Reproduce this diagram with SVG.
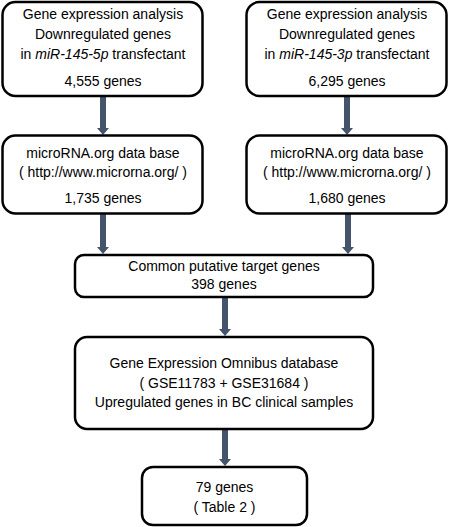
<svg xmlns="http://www.w3.org/2000/svg" width="450" height="527" viewBox="0 0 450 527">
<style>
.box{fill:#fff;stroke:#000;stroke-width:2.5}
.t{font-family:"Liberation Sans",Arial,sans-serif;font-size:14px;fill:#000;text-anchor:middle}
.arr{fill:#44546a}
</style>
<rect width="450" height="527" fill="#fff"/>
<g id="connectors">
<polygon class="arr" points="100,97 106,97 106,128 109,128 103,135 97,128 100,128"/>
<polygon class="arr" points="344,97 350,97 350,128 353,128 347,135 341,128 344,128"/>
<polygon class="arr" points="100,214 106,214 106,247 109,247 103,254 97,247 100,247"/>
<polygon class="arr" points="345,214 351,214 351,247 354,247 348,254 342,247 345,247"/>
<polygon class="arr" points="222,298 228,298 228,329 231,329 225,336 219,329 222,329"/>
<polygon class="arr" points="222,430 228,430 228,459 231,459 225,466 219,459 222,459"/>
</g>
<g id="n1">
<rect class="box" x="2.5" y="2" width="200" height="94" rx="13"/>
<text class="t" x="103" y="19">Gene expression analysis</text>
<text class="t" x="103" y="39">Downregulated genes</text>
<text class="t" x="103" y="59">in <tspan font-style="italic">miR-145-5p</tspan> transfectant</text>
<text class="t" x="103" y="86">4,555 genes</text>
</g>
<g id="n2">
<rect class="box" x="246.5" y="2" width="200" height="94" rx="13"/>
<text class="t" x="347" y="19">Gene expression analysis</text>
<text class="t" x="347" y="39">Downregulated genes</text>
<text class="t" x="347" y="59">in <tspan font-style="italic">miR-145-3p</tspan> transfectant</text>
<text class="t" x="347" y="86">6,295 genes</text>
</g>
<g id="n3">
<rect class="box" x="2.5" y="135.5" width="200" height="78" rx="13"/>
<text class="t" x="103" y="158">microRNA.org data base</text>
<text class="t" x="103" y="177">( http://www.microrna.org/ )</text>
<text class="t" x="103" y="203">1,735 genes</text>
</g>
<g id="n4">
<rect class="box" x="246.5" y="135.5" width="200" height="78" rx="13"/>
<text class="t" x="347" y="158">microRNA.org data base</text>
<text class="t" x="347" y="177">( http://www.microrna.org/ )</text>
<text class="t" x="347" y="203">1,680 genes</text>
</g>
<g id="n5">
<rect class="box" x="75" y="255" width="298" height="42" rx="9"/>
<text class="t" x="224" y="271">Common putative target genes</text>
<text class="t" x="224" y="289">398 genes</text>
</g>
<g id="n6">
<rect class="box" x="75" y="337" width="298" height="92" rx="12"/>
<text class="t" x="224" y="368">Gene Expression Omnibus database</text>
<text class="t" x="224" y="388">( GSE11783 + GSE31684 )</text>
<text class="t" x="224" y="407">Upregulated genes in BC clinical samples</text>
</g>
<g id="n7">
<rect class="box" x="142" y="467" width="165" height="58" rx="11"/>
<text class="t" x="224.5" y="492">79 genes</text>
<text class="t" x="224.5" y="512">( Table 2 )</text>
</g>
</svg>
